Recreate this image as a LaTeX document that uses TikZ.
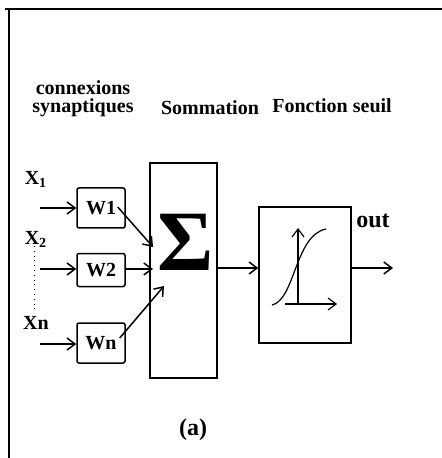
\documentclass[tikz,border=0pt]{standalone}
\usepackage{fontspec}
\setmainfont{Liberation Serif}
\usetikzlibrary{arrows.meta, positioning, calc}

\begin{document}
\begin{tikzpicture}[
        x=0.5pt, y=-0.5pt,
        lbl/.style={inner sep=0pt, align=center, font=\bfseries\fontsize{10}{9}\selectfont},
        wbox/.style={rectangle, draw=black, line width=0.75pt, rounded corners=1pt, minimum width=24pt, inner sep=0pt, font=\bfseries\fontsize{10}{10}\selectfont},
        bigbox/.style={rectangle, draw=black, line width=0.75pt, inner sep=0pt},
        arrow/.style={-{Straight Barb[length=4pt, width=6pt]}, line width=0.75pt}
    ]
    \useasboundingbox (0,0) rectangle (442,458);

    % Frame
    \draw[line width=1.4pt] (5,9) -- (442,9);
    \draw[line width=1pt] (9,9) -- (9,458);

    % Titles
    \node (syn) [lbl] at (83,99) {connexions\\synaptiques};
    \node (somm) [lbl] at (210,108) {Sommation};
    \node (fseuil) [lbl] at (332,106) {Fonction seuil};

    % Inputs
    \node (x1) [lbl] at (36,179) {X\textsubscript{1}};
    \node (x2) [lbl] at (36,239) {X\textsubscript{2}};
    \node (xn) [lbl] at (36,323) {Xn};
    \coordinate (in1) at (40,208);
    \coordinate (in2) at (40,269);
    \coordinate (inn) at (40,344);
    \draw[dotted, line width=0.4pt] (34,246) -- (34,312);

    % Weights
    \node (w1) [wbox, minimum height=20pt] at (101,208) {W1};
    \node (w2) [wbox, minimum height=16.5pt] at (101,270) {W2};
    \node (wn) [wbox, minimum height=20pt] at (101,343) {Wn};

    % Sum and threshold
    \node (sum) [bigbox, minimum width=33.5pt, minimum height=107.5pt] at (183.5,270.5) {};
    \node (sigma) [inner sep=0pt, font=\bfseries\fontsize{43}{43}\selectfont] at (186,242) {Σ};
    \coordinate (s1) at (153,247);
    \coordinate (s2) at (153,269);
    \coordinate (sn) at (164,286);
    \node (seuil) [bigbox, minimum width=46pt, minimum height=68pt] at (305,275) {};
    \node (out) [lbl, font=\bfseries\fontsize{12}{12}\selectfont] at (373,221) {out};
    \coordinate (outend) at (393,268);

    % Sigmoid
    \draw[arrow, line width=0.6pt] (298,304) -- (298,228);
    \draw[arrow, line width=0.6pt] (285,304) -- (337,304);
    \draw[line width=0.6pt] (272,305) .. controls (295,300) and (295,235) .. (326,229);

    % Connections
    \draw [arrow] (in1) -- (w1.west |- in1);
    \draw [arrow] (in2) -- (w2.west |- in2);
    \draw [arrow] (inn) -- (wn.west |- inn);
    \draw [arrow] ($(w1.east)+(-8,-1)$) -- (s1);
    \draw [arrow] (w2.east |- s2) -- (s2);
    \draw [arrow] ($(wn.east)+(-6,-5)$) -- (sn);
    \draw [arrow] (sum.east |- outend) -- (seuil.west |- outend);
    \draw [arrow] (seuil.east |- outend) -- (outend);

    \node (cap) [lbl, font=\bfseries\fontsize{12}{12}\selectfont] at (193,430) {(a)};

\end{tikzpicture}
\end{document}
